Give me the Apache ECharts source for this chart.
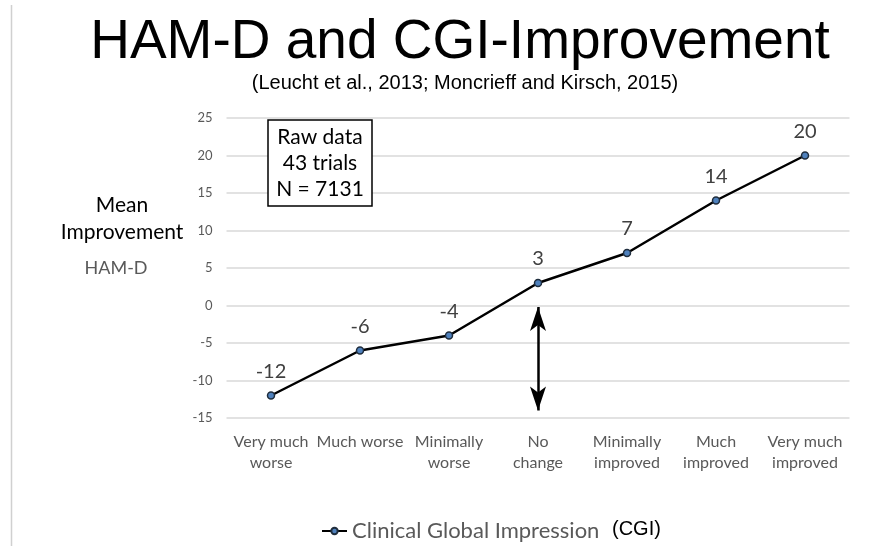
<!DOCTYPE html>
<html>
<head>
<meta charset="utf-8">
<script src="https://cdn.jsdelivr.net/npm/echarts@6/dist/echarts.min.js"></script>
<style>
  html, body { margin: 0; padding: 0; background: #fff; }
  #chart { width: 896px; height: 546px; }
</style>
</head>
<body>
<div id="chart"></div>
<script>
const categories = ['Very much\nworse', 'Much worse', 'Minimally\nworse', 'No\nchange', 'Minimally\nimproved', 'Much\nimproved', 'Very much\nimproved'];
const improvement = [-12, -6, -4, 3, 7, 14, 20];
const yTicks = { min: -15, max: 25, interval: 5 };
const boxLines = ['Raw data', '43 trials', 'N = 7131'];

const chart = echarts.init(document.getElementById('chart'));
const labelFont = 'Lato, "Open Sans", sans-serif';
const arialFont = '"Liberation Sans", Arial, sans-serif';

const option = {
  animation: false,
  title: [
    {
      text: 'HAM-D and CGI-Improvement',
      left: 455,
      top: 10,
      textAlign: 'center',
      textStyle: { fontFamily: arialFont, fontSize: 55, fontWeight: 'normal', color: '#000' }
    },
    {
      text: '(Leucht et al., 2013; Moncrieff and Kirsch, 2015)',
      left: 460,
      top: 68,
      textAlign: 'center',
      textStyle: { fontFamily: arialFont, fontSize: 20, fontWeight: 'normal', color: '#000' }
    }
  ],
  legend: {
    left: 316,
    top: 515,
    itemWidth: 25,
    itemHeight: 8,
    itemGap: 4,
    textStyle: { fontFamily: labelFont, fontSize: 22, color: '#595959' },
    data: ['Clinical Global Impression']
  },
  grid: { left: 226.5, right: 46.5, top: 118, bottom: 128 },
  xAxis: {
    type: 'category',
    data: categories,
    axisLine: { show: false },
    axisTick: { show: false },
    axisLabel: { interval: 0, fontFamily: labelFont, fontSize: 16, color: '#595959', lineHeight: 21, margin: 13 }
  },
  yAxis: {
    type: 'value',
    min: yTicks.min,
    max: yTicks.max,
    interval: yTicks.interval,
    axisLabel: { fontFamily: labelFont, fontSize: 13, color: '#595959', margin: 14 },
    splitLine: { lineStyle: { color: '#d9d9d9', width: 1.5 } }
  },
  series: [
    {
      name: 'Clinical Global Impression',
      type: 'line',
      data: improvement,
      symbol: 'circle',
      symbolSize: 7,
      lineStyle: { color: '#000', width: 2.5 },
      itemStyle: { color: '#4f81bd', borderColor: '#1f2d3d', borderWidth: 1.5 },
      label: {
        show: true,
        position: 'top',
        distance: 10,
        fontFamily: labelFont,
        fontSize: 20,
        color: '#404040'
      },
      markLine: {
        silent: true,
        symbol: ['arrow', 'arrow'],
        symbolSize: [12, 24],
        label: { show: false },
        lineStyle: { color: '#000', width: 2.5, type: 'solid' },
        data: [[{ coord: [3, -0.2] }, { coord: [3, -14] }]]
      }
    }
  ],
  graphic: [
    {
      type: 'line',
      shape: { x1: 11.5, y1: 5, x2: 11.5, y2: 546 },
      style: { stroke: '#d0d0d0', lineWidth: 1.5 }
    },
    {
      type: 'rect',
      shape: { x: 268, y: 120, width: 104, height: 86 },
      style: { fill: '#fff', stroke: '#000', lineWidth: 1.5 },
      z: 10
    },
    {
      type: 'text',
      x: 320,
      y: 163,
      style: {
        text: boxLines.join('\n'),
        fontFamily: labelFont,
        fontSize: 21,
        lineHeight: 26,
        fill: '#000',
        align: 'center',
        verticalAlign: 'middle'
      },
      z: 11
    },
    {
      type: 'text',
      x: 122,
      y: 219,
      style: {
        text: 'Mean\nImprovement',
        fontFamily: labelFont,
        fontSize: 21,
        lineHeight: 27,
        fill: '#000',
        align: 'center',
        verticalAlign: 'middle'
      }
    },
    {
      type: 'text',
      x: 116,
      y: 268,
      style: {
        text: 'HAM-D',
        fontFamily: labelFont,
        fontSize: 18,
        fill: '#595959',
        align: 'center',
        verticalAlign: 'middle'
      }
    },
    {
      type: 'text',
      x: 612,
      y: 529,
      style: {
        text: '(CGI)',
        fontFamily: arialFont,
        fontSize: 20,
        fill: '#000',
        align: 'left',
        verticalAlign: 'middle'
      }
    }
  ]
};

chart.setOption(option);
window.addEventListener('resize', () => chart.resize());
</script>
</body>
</html>
